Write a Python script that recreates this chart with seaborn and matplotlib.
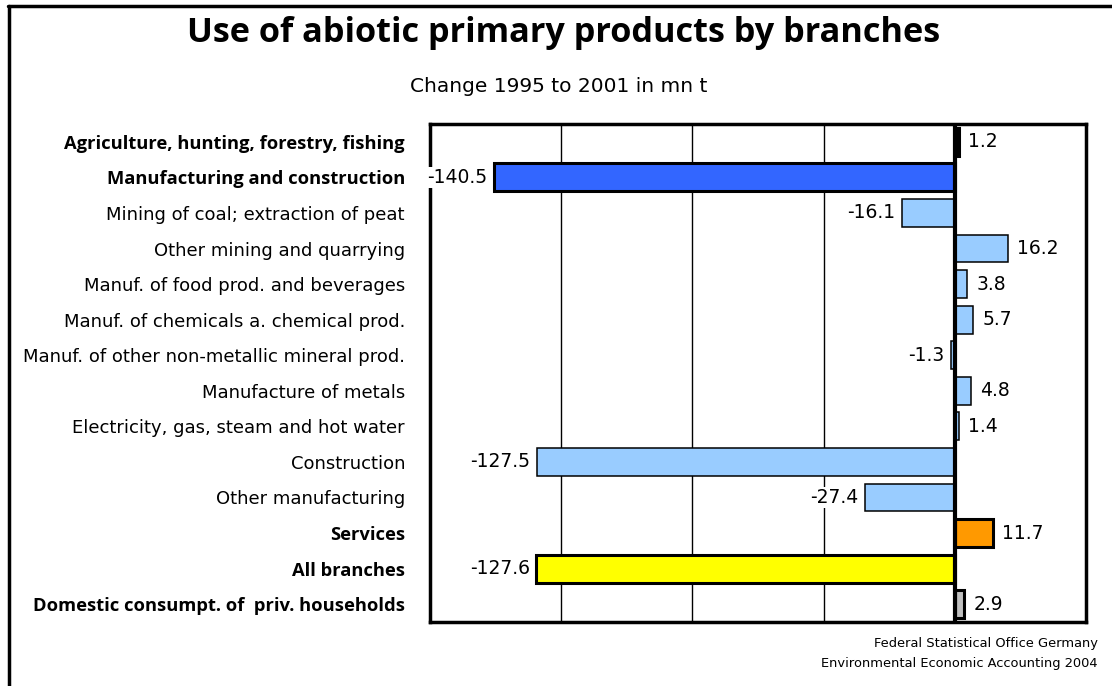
import matplotlib
matplotlib.use("Agg")
import matplotlib.pyplot as plt
import seaborn as sns
import pandas as pd
from matplotlib.lines import Line2D

# Branches and change in use of abiotic primary products, 1995 to 2001 (mn t)
branches = [
    "Agriculture, hunting, forestry, fishing",
    "Manufacturing and construction",
    "Mining of coal; extraction of peat",
    "Other mining and quarrying",
    "Manuf. of food prod. and beverages",
    "Manuf. of chemicals a. chemical prod.",
    "Manuf. of other non-metallic mineral prod.",
    "Manufacture of metals",
    "Electricity, gas, steam and hot water",
    "Construction",
    "Other manufacturing",
    "Services",
    "All branches",
    "Domestic consumpt. of  priv. households",
]
changes = [1.2, -140.5, -16.1, 16.2, 3.8, 5.7, -1.3, 4.8, 1.4, -127.5, -27.4, 11.7, -127.6, 2.9]
value_labels = ["1.2", "-140.5", "-16.1", "16.2", "3.8", "5.7", "-1.3", "4.8", "1.4",
                "-127.5", "-27.4", "11.7", "-127.6", "2.9"]
bold_branches = [
    "Agriculture, hunting, forestry, fishing",
    "Manufacturing and construction",
    "Services",
    "All branches",
    "Domestic consumpt. of  priv. households",
]
bar_colors = ["#000000", "#3366FF", "#99CCFF", "#99CCFF", "#99CCFF", "#99CCFF", "#99CCFF",
              "#99CCFF", "#99CCFF", "#99CCFF", "#99CCFF", "#FF9900", "#FFFF00", "#C0C0C0"]

sns.set_theme(style="white")
plt.rcParams["font.family"] = ["DejaVu Sans"]
plt.rcParams["text.color"] = "black"
plt.rcParams["ytick.color"] = "black"
plt.rcParams["xtick.color"] = "black"
BOLD_FAMILY = ["Open Sans", "DejaVu Sans"]

df = pd.DataFrame({"branch": branches, "change": changes})

fig = plt.figure(figsize=(11.12, 6.86), dpi=100)
ax = fig.add_axes([430 / 1112, 1 - 622 / 686, 656 / 1112, 498 / 686])

sns.barplot(data=df, y="branch", x="change", hue="branch", orient="h",
            palette=dict(zip(branches, bar_colors)), order=branches,
            legend=False, width=0.78, ax=ax, saturation=1)

for patch, name in zip(ax.patches, branches):
    patch.set_edgecolor("black")
    patch.set_linewidth(2.2 if name in bold_branches else 1.1)
    patch.set_zorder(3)

ax.set_xlim(-160, 40)
ax.set_ylim(len(branches) - 0.5, -0.5)
ax.set_xticks([-120, -80, -40])
ax.set_xticklabels([])
ax.tick_params(axis="x", length=0)
ax.grid(axis="x", color="black", linewidth=1.0)
ax.grid(axis="y", visible=False)
ax.axvline(0, color="black", linewidth=3, zorder=4)
for side in ["left", "right", "top", "bottom"]:
    ax.spines[side].set_visible(True)
    ax.spines[side].set_color("black")
    ax.spines[side].set_linewidth(2.5)
ax.set_xlabel("")
ax.set_ylabel("")

ax.tick_params(axis="y", length=0, pad=18)
ax.set_yticks(range(len(branches)))
ax.set_yticklabels(branches, fontsize=13, color="black")
for lbl in ax.get_yticklabels():
    if lbl.get_text() in bold_branches:
        lbl.set_family(BOLD_FAMILY)
        lbl.set_fontweight("bold")
        lbl.set_fontsize(13.2)

# Value labels beside each bar
for i, (v, txt) in enumerate(zip(changes, value_labels)):
    if v >= 0:
        ax.annotate(txt, xy=(v, i), xytext=(6.5, 0), textcoords="offset points",
                    ha="left", va="center", fontsize=13.5, color="black", zorder=6)
    else:
        ax.annotate(txt, xy=(v, i), xytext=(-4.5, 0), textcoords="offset points",
                    ha="right", va="center", fontsize=13.5, color="black", zorder=6,
                    annotation_clip=False,
                    bbox=dict(boxstyle="square,pad=0.05", facecolor="white", edgecolor="none"))

fig.text(564 / 1112, 1 - 33 / 686, "Use of abiotic primary products by branches",
         ha="center", va="center", fontsize=24.7, fontweight="bold", family=BOLD_FAMILY)
fig.text(559 / 1112, 1 - 87 / 686, "Change 1995 to 2001 in mn t",
         ha="center", va="center", fontsize=14.5)
fig.text(1098 / 1112, 1 - 643 / 686, "Federal Statistical Office Germany",
         ha="right", va="center", fontsize=9.4)
fig.text(1098 / 1112, 1 - 664 / 686, "Environmental Economic Accounting 2004",
         ha="right", va="center", fontsize=9.4)

# Frame lines along the top and left edge of the figure
fig.add_artist(Line2D([9 / 1112, 9 / 1112], [0, 1 - 6 / 686], color="black", linewidth=2.5))
fig.add_artist(Line2D([8 / 1112, 1], [1 - 6 / 686, 1 - 6 / 686], color="black", linewidth=2.5))

fig.savefig("out.png", dpi=100)
